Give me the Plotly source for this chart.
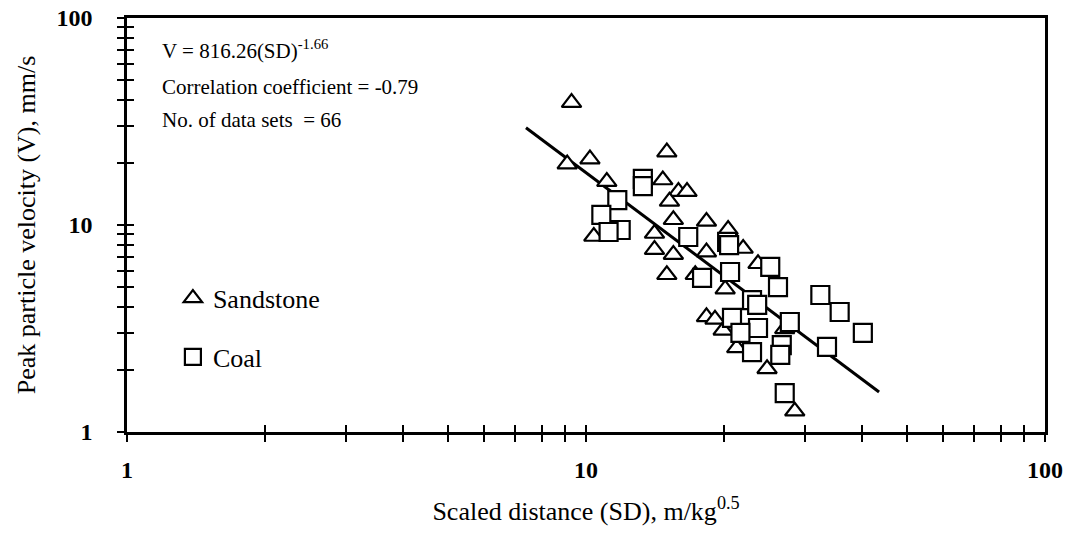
import plotly.graph_objects as go

# ---- data ----
sandstone_sd = [9.3, 9.1, 10.2, 11.1, 15.0, 14.7, 15.9, 16.6, 15.2, 15.5, 18.3, 14.1, 10.4,
                14.1, 15.5, 15.0, 17.3, 18.3, 20.4, 22.0, 23.7, 20.1, 18.3, 19.1, 19.9, 21.3,
                27.1, 24.8, 28.5]
sandstone_v = [39.0, 19.7, 20.8, 16.2, 22.5, 16.5, 14.5, 14.5, 13.0, 10.6, 10.4, 9.1, 8.8,
               7.6, 7.2, 5.75, 5.75, 7.4, 9.5, 7.7, 6.5, 4.9, 3.6, 3.5, 3.1, 2.55,
               3.15, 2.02, 1.26]

coal_sd = [13.3, 13.3, 11.7, 10.8, 11.9, 11.2, 16.7, 20.3, 20.5, 20.6, 17.9, 25.2, 26.2,
           23.0, 23.6, 20.8, 27.8, 23.7, 21.7, 32.4, 35.7, 40.1, 26.7, 23.0, 26.5, 33.5, 27.1]
coal_v = [16.7, 15.4, 13.2, 11.2, 9.46, 9.25, 8.75, 8.28, 8.0, 5.93, 5.55, 6.27, 5.01,
          4.34, 4.11, 3.56, 3.40, 3.18, 3.01, 4.59, 3.80, 3.01, 2.63, 2.43, 2.36, 2.58, 1.54]

fit_sd = [7.4, 43.5]
fit_v = [29.5, 1.56]

tick_vals = [1, 2, 3, 4, 5, 6, 7, 8, 9, 10, 20, 30, 40, 50, 60, 70, 80, 90, 100]
tick_text = ["<b>1</b>", "", "", "", "", "", "", "", "", "<b>10</b>",
             "", "", "", "", "", "", "", "", "<b>100</b>"]

FONT = "Liberation Serif"

fig = go.Figure()

fig.add_trace(go.Scatter(
    x=fit_sd, y=fit_v, mode="lines", line=dict(color="black", width=3),
    showlegend=False, hoverinfo="skip"))

fig.add_trace(go.Scatter(
    x=sandstone_sd, y=sandstone_v, mode="markers", name="Sandstone",
    legendgroup="s",
    marker=dict(symbol="triangle-up", size=17, color="white",
                line=dict(color="black", width=2.2))))

fig.add_trace(go.Scatter(
    x=coal_sd, y=coal_v, mode="markers", name="Coal",
    legendgroup="c",
    marker=dict(symbol="square", size=18, color="white",
                line=dict(color="black", width=2.2))))

axis_common = dict(
    type="log", range=[0, 2], tickmode="array", tickvals=tick_vals,
    showgrid=False, zeroline=False, automargin=False, tickangle=0,
)

fig.update_layout(
    width=1066, height=554,
    margin=dict(l=127, r=21, t=18, b=122, autoexpand=False),
    paper_bgcolor="white", plot_bgcolor="white",
    xaxis=dict(
        **axis_common, ticktext=tick_text,
        showline=True, linecolor="black", linewidth=2.5, mirror=True,
        ticks="outside", ticklen=7, tickwidth=2, tickcolor="black",
        ticklabelstandoff=7,
        tickfont=dict(family=FONT, size=24, color="black"),
        title=dict(text="Scaled distance (SD), m/kg<sup>0.5</sup>",
                   font=dict(family=FONT, size=26, color="black"), standoff=21),
    ),
    yaxis=dict(
        **axis_common, ticktext=tick_text,
        showline=True, linecolor="black", linewidth=2.5, mirror=True,
        ticks="outside", ticklen=7, tickwidth=2, tickcolor="black",
        ticklabelstandoff=20,
        tickfont=dict(family=FONT, size=24, color="black"),
        title=dict(text="Peak particle velocity (V), mm/s",
                   font=dict(family=FONT, size=26, color="black"), standoff=14),
    ),
    xaxis2=dict(
        **axis_common, overlaying="x", anchor="y", side="bottom",
        showticklabels=False, showline=False,
        ticks="inside", ticklen=7, tickwidth=2, tickcolor="black",
    ),
    yaxis2=dict(
        **axis_common, overlaying="y", anchor="x", side="left",
        showticklabels=False, showline=False,
        ticks="inside", ticklen=7, tickwidth=2, tickcolor="black",
    ),
    legend=dict(
        x=0.05, y=0.38, xanchor="left", yanchor="top",
        bgcolor="rgba(0,0,0,0)", borderwidth=0,
        font=dict(family=FONT, size=26, color="black"),
        tracegroupgap=22, valign="top",
    ),
    showlegend=True,
)

# invisible trace that activates the overlay axes (inner half of the crossing ticks)
fig.add_trace(go.Scatter(x=[1], y=[1], xaxis="x2", yaxis="y2", mode="markers",
                         marker=dict(opacity=0), showlegend=False, hoverinfo="skip"))

ann_lines = [
    ("V = 816.26(SD)<sup>-1.66</sup>", 49),
    ("Correlation coefficient = -0.79", 87),
    ("No. of data sets  = 66", 120),
]
for txt, ypx in ann_lines:
    fig.add_annotation(
        xref="paper", yref="paper", x=(160 - 127) / 918, y=(432 - ypx) / 414,
        xanchor="left", yanchor="middle", text=txt, showarrow=False,
        font=dict(family=FONT, size=21, color="black"))

fig.write_html("out.html")
